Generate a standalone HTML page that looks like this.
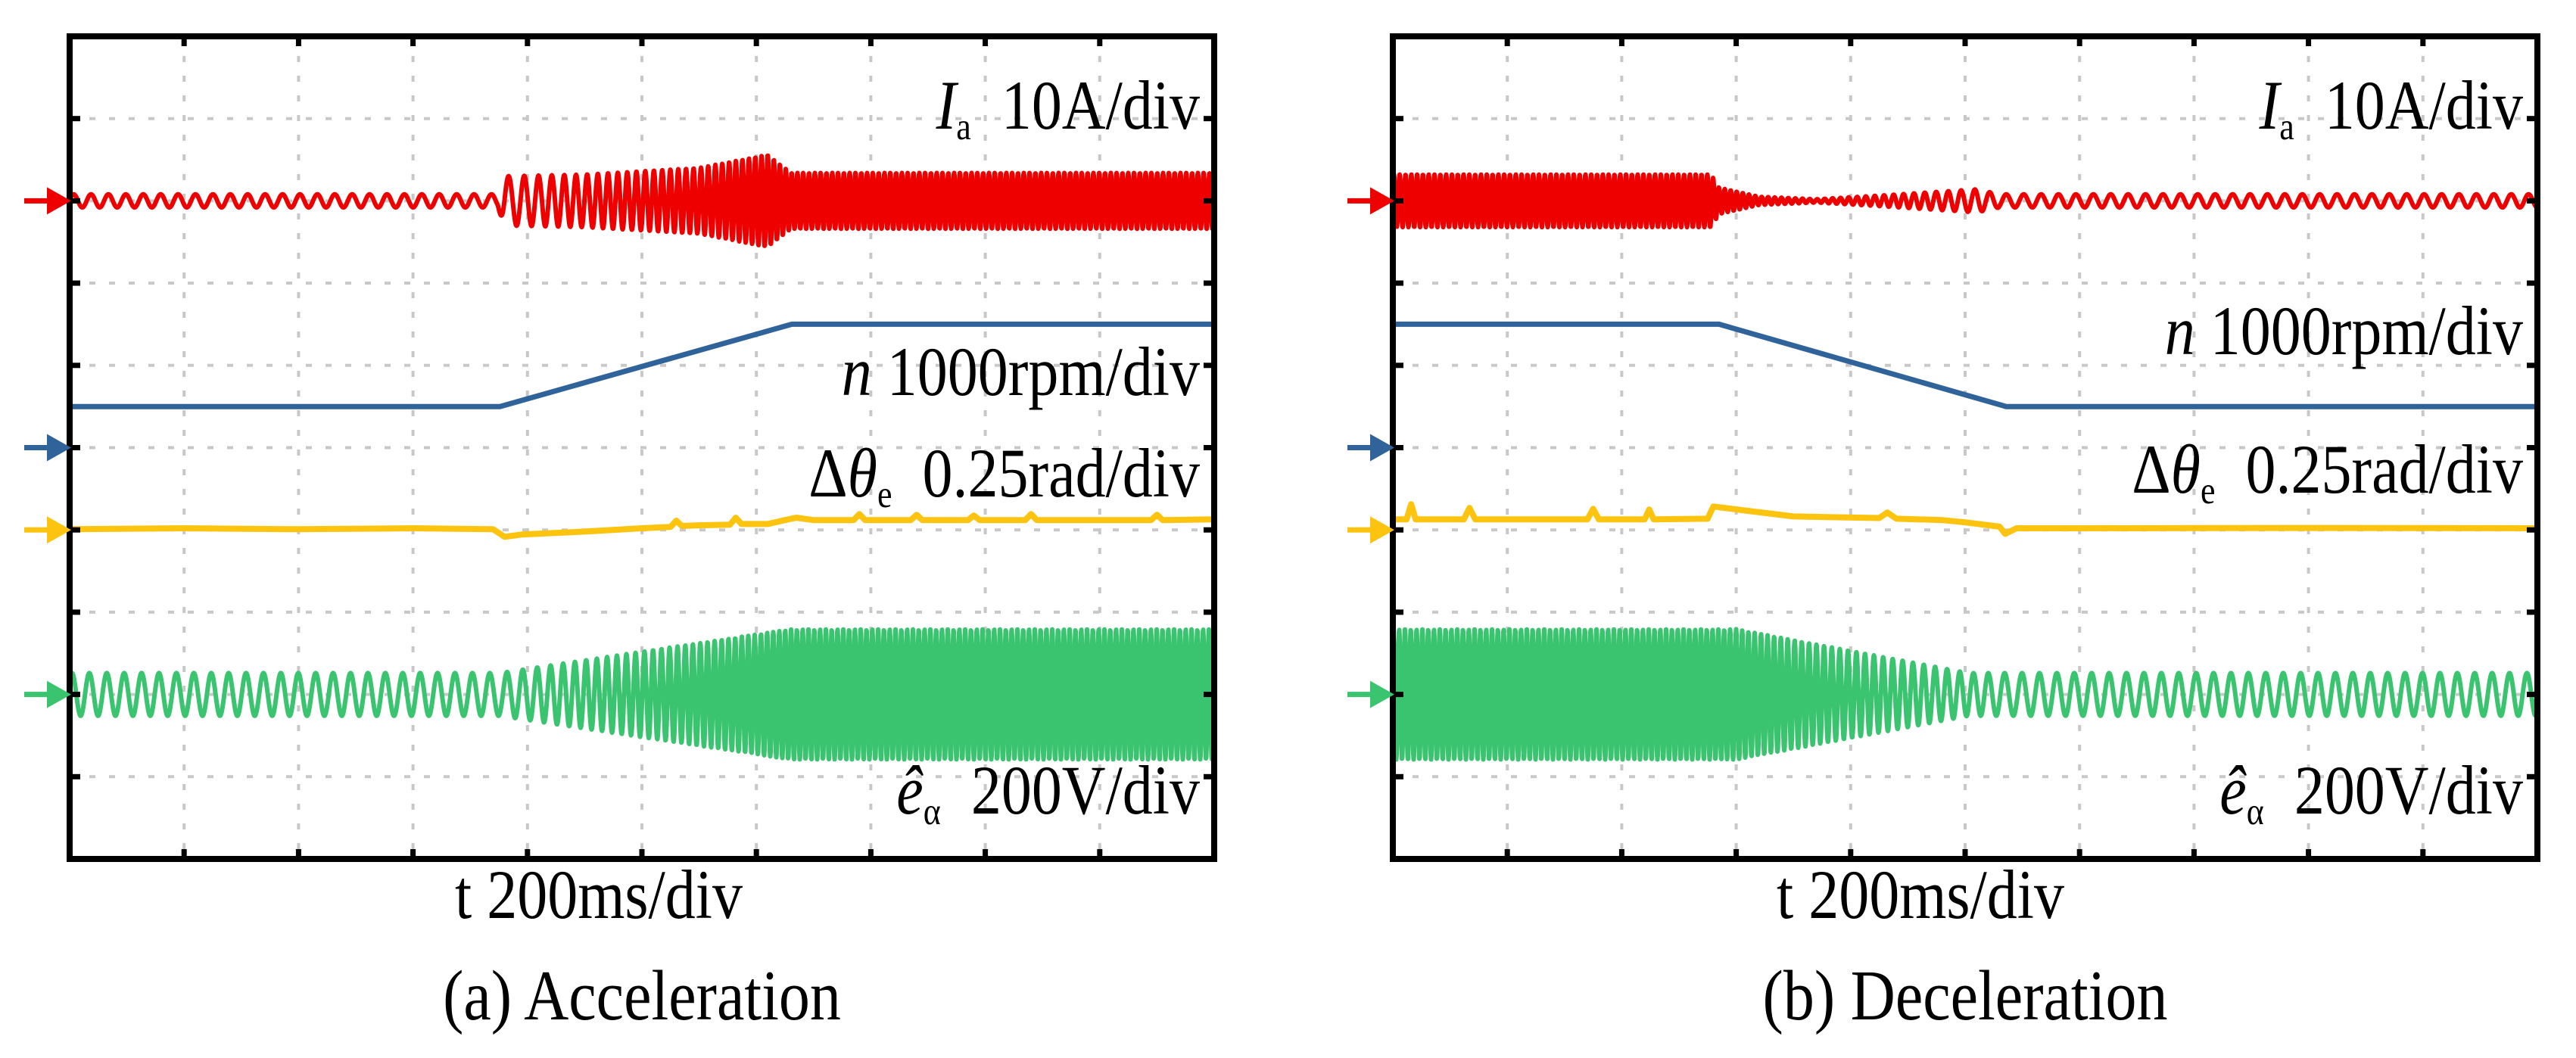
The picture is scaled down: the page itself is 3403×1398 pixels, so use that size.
<!DOCTYPE html>
<html><head><meta charset="utf-8"><style>
html,body{margin:0;padding:0;background:#fff;}
svg{display:block;}
text{font-family:"Liberation Serif",serif;fill:#000;}
</style></head><body>
<svg id="fig" width="3403" height="1398" viewBox="0 0 3403 1398" xmlns="http://www.w3.org/2000/svg">
  <g id="panelA"></g>
  <g id="panelB"></g>
  <g font-size="80">
    <text class="lbl" x="1585" y="170" text-anchor="end"><tspan font-style="italic">I</tspan><tspan font-size="44" dy="12">a</tspan><tspan dy="-12" xml:space="preserve">  10A/div</tspan></text>
    <text class="lbl" x="1585" y="522" text-anchor="end"><tspan font-style="italic">n</tspan> 1000rpm/div</text>
    <text class="lbl" x="1585" y="656" text-anchor="end">Δ<tspan font-style="italic">θ</tspan><tspan font-size="44" dy="12">e</tspan><tspan dy="-12" xml:space="preserve">  0.25rad/div</tspan></text>
    <text class="lbl" x="1585" y="1075" text-anchor="end"><tspan font-style="italic">ê</tspan><tspan font-size="44" dy="12">α</tspan><tspan dy="-12" xml:space="preserve">  200V/div</tspan></text>
    <text class="lbl" x="791" y="1213" text-anchor="middle">t 200ms/div</text>
    <text class="lbl" x="848" y="1347" text-anchor="middle" font-size="82">(a) Acceleration</text>
  </g>
  <g font-size="80">
    <text class="lbl" x="3333" y="170" text-anchor="end"><tspan font-style="italic">I</tspan><tspan font-size="44" dy="12">a</tspan><tspan dy="-12" xml:space="preserve">  10A/div</tspan></text>
    <text class="lbl" x="3333" y="468" text-anchor="end"><tspan font-style="italic">n</tspan> 1000rpm/div</text>
    <text class="lbl" x="3333" y="651" text-anchor="end">Δ<tspan font-style="italic">θ</tspan><tspan font-size="44" dy="12">e</tspan><tspan dy="-12" xml:space="preserve">  0.25rad/div</tspan></text>
    <text class="lbl" x="3333" y="1075" text-anchor="end"><tspan font-style="italic">ê</tspan><tspan font-size="44" dy="12">α</tspan><tspan dy="-12" xml:space="preserve">  200V/div</tspan></text>
    <text class="lbl" x="2537" y="1213" text-anchor="middle">t 200ms/div</text>
    <text class="lbl" x="2596" y="1347" text-anchor="middle" font-size="82">(b) Deceleration</text>
  </g>
</svg>
<script>
// ---- data (time in divisions of 200 ms) ----
// Panel A: acceleration
const speedTimeA = [0, 3.76, 6.31, 10];
const speedRpmA  = [500, 500, 1500, 1500];
const currentTimeA = [0, 3.74, 3.8, 4.5, 5.5, 6.1, 6.3, 10];
const currentAmpA  = [0.8, 0.8, 3.0, 3.2, 4.0, 5.6, 3.4, 3.4];
const emfTimeA = [0, 3.76, 6.3, 10];
const emfAmpA  = [52, 52, 158, 158];
const angleTimeA = [0,1,2,3,3.7,3.8,3.95,4.5,5.0,5.25,5.3,5.35,5.5,5.77,5.82,5.87,6.1,6.25,6.35,6.5,6.85,6.9,6.95,7.35,7.4,7.45,7.85,7.9,7.95,8.35,8.4,8.45,9.45,9.5,9.55,10];
const angleRadA  = [0.002,0.005,0.002,0.005,0.002,-0.021,-0.014,-0.005,0.005,0.009,0.028,0.012,0.014,0.016,0.037,0.018,0.018,0.030,0.037,0.030,0.030,0.048,0.030,0.030,0.046,0.030,0.030,0.044,0.030,0.030,0.048,0.030,0.030,0.046,0.030,0.032];
// Panel B: deceleration
const speedTimeB = [0, 2.85, 5.36, 10];
const speedRpmB  = [1500, 1500, 500, 500];
const currentTimeB = [0, 2.78, 2.85, 3.2, 3.7, 4.2, 5.1, 5.3, 10];
const currentAmpB  = [3.2, 3.2, 1.6, 0.5, 0.2, 0.6, 1.4, 0.8, 0.8];
const emfTimeB = [0, 3.0, 5.03, 10];
const emfAmpB  = [158, 158, 52, 52];
const angleTimeB = [0,0.12,0.16,0.2,0.62,0.67,0.72,1.7,1.75,1.8,2.2,2.24,2.28,2.75,2.8,3.1,3.5,4.25,4.32,4.4,4.8,5.0,5.3,5.35,5.45,6,8,10];
const angleRadB  = [0.032,0.032,0.078,0.032,0.032,0.067,0.032,0.032,0.064,0.032,0.032,0.062,0.032,0.034,0.071,0.058,0.041,0.036,0.053,0.034,0.030,0.023,0.010,-0.012,0.005,0.005,0.006,0.005];

// ---- scales ----
const W = 1512, H = 1087, DIVX = W/10, DIVY = H/10;
const ZERO = {current:2, speed:5, angle:6, emf:8};
const PER_DIV = {current:10, speed:1000, angle:0.25, emf:200};
const BASE_PERIOD = 23, BASE_RPM = 500;
const NS = "http://www.w3.org/2000/svg";

function interp(ts, vs, t){
  if (t <= ts[0]) return vs[0];
  for (let i=1;i<ts.length;i++){
    if (t <= ts[i]) { const f=(t-ts[i-1])/(ts[i]-ts[i-1]); return vs[i-1]+f*(vs[i]-vs[i-1]); }
  }
  return vs[vs.length-1];
}
function xScale(x0, t){ return x0 + t*DIVX; }
function yScale(y0, key, v){ return y0 + (ZERO[key] - v/PER_DIV[key])*DIVY; }
function mk(tag, attrs, parent){
  const e=document.createElementNS(NS, tag);
  for (const k in attrs) e.setAttribute(k, attrs[k]);
  parent.appendChild(e); return e;
}

function drawPanel(g, x0, y0, sT, sV, cT, cV, eT, eV, aT, aV){
  for (let i=1;i<10;i++){
    const gx = mk('line',{x1:x0+i*DIVX,y1:y0,x2:x0+i*DIVX,y2:y0+H,stroke:'#c8c8c8','stroke-width':4,'stroke-dasharray':'8 18'},g);
    
    
    const gy = mk('line',{x1:x0,y1:y0+i*DIVY,x2:x0+W,y2:y0+i*DIVY,stroke:'#c8c8c8','stroke-width':4,'stroke-dasharray':'8 18'},g);
    
    
  }
  const step = 0.5;
  let phase = 0, dI = '', dE = '';
  for (let px=0; px<=W; px+=step){
    const t = px/DIVX;
    const n = interp(sT, sV, t);
    const per = BASE_PERIOD*BASE_RPM/n;
    phase += 2*Math.PI*step/per;
    const iv = interp(cT, cV, t)*Math.sin(phase);
    const ev = interp(eT, eV, t)*Math.sin(phase+0.6);
    const X = xScale(x0,t).toFixed(1);
    dI += (px===0?'M':'L')+X+','+yScale(y0,'current',iv).toFixed(1);
    dE += (px===0?'M':'L')+X+','+yScale(y0,'emf',ev).toFixed(1);
  }
  let dN = '';
  sT.forEach((t,i)=>{ dN += (i?'L':'M')+xScale(x0,t).toFixed(1)+','+yScale(y0,'speed',sV[i]).toFixed(1); });
  let dA = '';
  aT.forEach((t,i)=>{ dA += (i?'L':'M')+xScale(x0,t).toFixed(1)+','+yScale(y0,'angle',aV[i]).toFixed(1); });

  const pe = mk('path',{d:dE,fill:'none',stroke:'#3bc470','stroke-width':6,'stroke-linejoin':'round'},g);
  
  
  const pa = mk('path',{d:dA,fill:'none',stroke:'#fcc30f','stroke-width':8,'stroke-linejoin':'round'},g);
  
  
  const pn = mk('path',{d:dN,fill:'none',stroke:'#31639b','stroke-width':7},g);
  
  
  const pi = mk('path',{d:dI,fill:'none',stroke:'#ee0000','stroke-width':6,'stroke-linejoin':'round'},g);
  
  

  const fr = mk('rect',{x:x0,y:y0,width:W,height:H,fill:'none',stroke:'#000','stroke-width':8},g);
  
  
  for (let i=1;i<10;i++){
    const X=x0+i*DIVX, Y=y0+i*DIVY;
    [[X,y0,X,y0+13],[X,y0+H,X,y0+H-13],[x0,Y,x0+14,Y],[x0+W,Y,x0+W-14,Y]].forEach(c=>{
      const tk = mk('line',{x1:c[0],y1:c[1],x2:c[2],y2:c[3],stroke:'#000','stroke-width':7},g);
      
      
    });
  }
  const cols = {current:'#ee0000', speed:'#31639b', angle:'#fcc30f', emf:'#3bc470'};
  Object.keys(ZERO).forEach(k=>{
    const y = y0 + ZERO[k]*DIVY;
    const m = mk('g',{},g);
    
    
    mk('rect',{x:x0-60,y:y-3.5,width:32,height:7,fill:cols[k]},m);
    mk('polygon',{points:(x0-30)+','+(y-18)+' '+(x0+2)+','+y+' '+(x0-30)+','+(y+18),fill:cols[k]},m);
  });
}

drawPanel(document.getElementById('panelA'), 92, 48, speedTimeA, speedRpmA, currentTimeA, currentAmpA, emfTimeA, emfAmpA, angleTimeA, angleRadA);
drawPanel(document.getElementById('panelB'), 1840, 48, speedTimeB, speedRpmB, currentTimeB, currentAmpB, emfTimeB, emfAmpB, angleTimeB, angleRadB);

// stretch label text vertically to match the reference's tall glyphs
document.querySelectorAll('text.lbl').forEach(t=>{
  const y = parseFloat(t.getAttribute('y'));
  const s = 1.15;
  t.setAttribute('transform','matrix(1,0,0,'+s+',0,'+(-(s-1)*y)+')');
});
</script>
</body></html>
